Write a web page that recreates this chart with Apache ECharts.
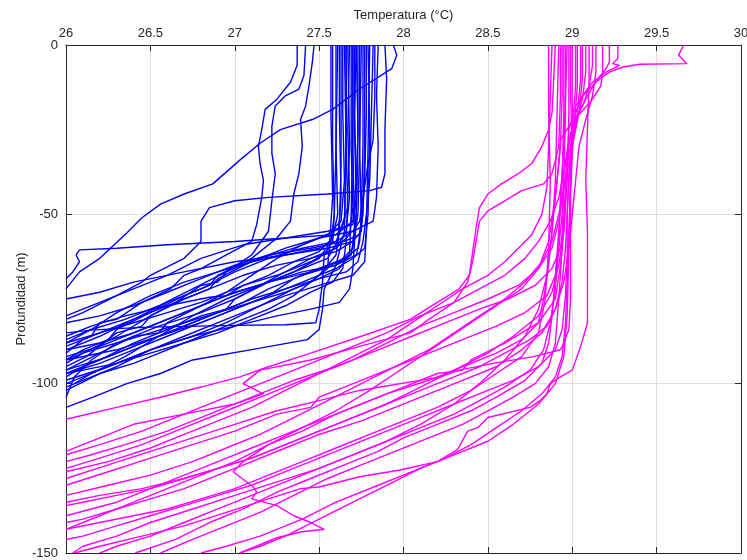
<!DOCTYPE html>
<html><head><meta charset="utf-8">
<script src="https://cdn.jsdelivr.net/npm/echarts@6/dist/echarts.min.js"></script>
<style>html,body{margin:0;padding:0;background:#fff}#c{width:747px;height:560px}</style>
</head><body><div id="c"></div>
<script>
// Axis ticks
const xTicks = [26, 26.5, 27, 27.5, 28, 28.5, 29, 29.5, 30];
const yTicks = [0, -50, -100, -150];

// Blue profiles [temperature °C, depth m]
const b01 = [[27.37,0],[27.37,-6],[27.33,-11],[27.25,-16],[27.18,-19],[27.16,-25],[27.14,-30],[27.15,-35],[27.17,-40],[27.16,-45],[27.13,-53],[27.1,-58],[26.95,-62],[26.8,-66],[26.7,-68],[26.62,-72],[26.45,-76],[26.3,-81],[26.2,-82],[26.15,-86],[26.0,-89]];
const b02 = [[27.42,0],[27.41,-9],[27.38,-13],[27.3,-15],[27.24,-18],[27.22,-24],[27.22,-32],[27.24,-38],[27.22,-46],[27.2,-55],[27.1,-62],[26.95,-67],[26.9,-70],[26.8,-71],[26.65,-76],[26.5,-80],[26.45,-83],[26.3,-85],[26.12,-92],[26.0,-95]];
const b03 = [[27.47,0],[27.46,-5],[27.44,-12],[27.42,-18],[27.39,-22],[27.4,-30],[27.38,-38],[27.35,-44],[27.33,-52],[27.25,-57],[27.1,-63],[26.9,-68],[26.85,-71],[26.7,-74],[26.5,-79],[26.3,-84],[26.25,-87],[26.1,-90],[26.0,-93]];
const b04 = [[27.94,0],[27.96,-3],[27.93,-7],[27.74,-13],[27.58,-19],[27.46,-22],[27.27,-25],[27.15,-29],[27.03,-34],[26.87,-41],[26.7,-44],[26.56,-47],[26.45,-51],[26.36,-55.5],[26.2,-63],[26.08,-67],[26.0,-72]];
const b05 = [[27.89,0],[27.9,-10],[27.89,-25],[27.89,-38],[27.87,-42],[27.8,-43],[27.55,-44],[27.2,-45],[27.0,-46],[26.85,-48],[26.8,-52],[26.8,-58],[26.7,-63],[26.5,-68],[26.45,-70],[26.3,-74],[26.1,-79],[26.0,-81]];
const b06 = [[27.85,0],[27.84,-15],[27.85,-30],[27.84,-45],[27.82,-52],[27.7,-55],[27.5,-57],[27.3,-60],[27.1,-64],[26.9,-69],[26.85,-72],[26.7,-75],[26.5,-80],[26.3,-86],[26.1,-91],[26.0,-93]];
const b07 = [[27.72,0],[27.71,-20],[27.72,-40],[27.7,-52],[27.6,-56],[27.3,-57],[27.0,-58],[26.6,-59],[26.3,-60],[26.08,-60.5],[26.06,-62],[26.08,-64],[26.04,-67],[26.0,-69]];
const b08 = [[27.78,0],[27.78,-20],[27.77,-40],[27.75,-55],[27.7,-58],[27.55,-60],[27.3,-62],[27.0,-64],[26.7,-67],[26.4,-70],[26.2,-73],[26.0,-75]];
const b09 = [[27.68,0],[27.67,-25],[27.68,-45],[27.66,-55],[27.6,-60],[27.45,-64],[27.25,-68],[27.05,-71],[26.95,-74],[26.85,-74.5],[26.6,-77],[26.35,-80],[26.15,-83],[26.0,-86]];
const b10 = [[27.74,0],[27.74,-30],[27.73,-50],[27.7,-60],[27.62,-64],[27.45,-67],[27.2,-70],[26.95,-74],[26.7,-79],[26.45,-84],[26.2,-89],[26.0,-92]];
const b11 = [[27.6,0],[27.6,-30],[27.59,-50],[27.58,-58],[27.53,-62],[27.52,-70],[27.5,-78],[27.48,-82],[27.3,-82.6],[27.0,-82.8],[26.79,-83],[26.5,-83.3],[26.36,-83.6],[26.15,-84.2],[26.0,-85]];
const b12 = [[27.66,0],[27.66,-30],[27.65,-55],[27.6,-65],[27.53,-72],[27.52,-78],[27.5,-84],[27.43,-87],[27.15,-89.5],[26.75,-93],[26.56,-97],[26.36,-100],[26.16,-104],[26.0,-107]];
const b13 = [[27.62,0],[27.62,-20],[27.63,-45],[27.61,-58],[27.55,-63],[27.4,-66],[27.2,-70],[27.0,-75],[26.95,-78],[26.8,-80],[26.6,-84],[26.4,-88],[26.2,-93],[26.0,-97]];
const b14 = [[27.7,0],[27.7,-25],[27.69,-50],[27.68,-62],[27.62,-66],[27.5,-69],[27.35,-72],[27.15,-77],[26.95,-82],[26.75,-86],[26.5,-90],[26.3,-94],[26.1,-98],[26.0,-100]];
const b15 = [[27.76,0],[27.76,-30],[27.75,-50],[27.74,-58],[27.72,-62],[27.6,-65],[27.4,-67],[27.2,-70],[27.0,-73],[26.8,-77],[26.6,-81],[26.4,-85],[26.2,-88],[26.0,-90]];
const b16 = [[27.64,0],[27.64,-20],[27.65,-40],[27.63,-52],[27.55,-56],[27.4,-59],[27.25,-63],[27.1,-68],[26.95,-73],[26.8,-77],[26.6,-82],[26.55,-85],[26.4,-86],[26.2,-91],[26.0,-96]];
const b17 = [[27.8,0],[27.79,-30],[27.78,-55],[27.77,-64],[27.7,-68],[27.5,-71],[27.3,-74],[27.1,-78],[26.9,-82],[26.7,-86],[26.5,-90],[26.3,-95],[26.1,-99],[26.0,-101]];
const b18 = [[27.72,0],[27.73,-25],[27.72,-50],[27.7,-66],[27.68,-72],[27.62,-76],[27.45,-78],[27.25,-80],[27.0,-83],[26.75,-86],[26.5,-90],[26.25,-95],[26.0,-99]];
const b19 = [[27.66,0],[27.66,-30],[27.67,-48],[27.63,-54],[27.5,-57],[27.35,-60],[27.15,-63],[26.95,-67],[26.75,-72],[26.55,-77],[26.35,-81],[26.15,-84],[26.0,-87]];
const b20 = [[27.7,0],[27.7,-30],[27.71,-55],[27.69,-62],[27.6,-65],[27.4,-68],[27.2,-72],[27.05,-76],[26.85,-80],[26.65,-84],[26.45,-88],[26.25,-92],[26.0,-96]];
const b21 = [[27.75,0],[27.74,-30],[27.75,-52],[27.73,-60],[27.65,-63],[27.5,-66],[27.35,-69],[27.2,-74],[27.0,-78],[26.8,-82],[26.55,-86],[26.3,-90],[26.0,-93]];
const b22 = [[27.63,0],[27.63,-35],[27.62,-55],[27.6,-62],[27.5,-68],[27.35,-74],[27.2,-78],[27.0,-82],[26.8,-86],[26.6,-90],[26.4,-94],[26.2,-97],[26.0,-102]];
const b23 = [[27.57,0],[27.57,-20],[27.58,-45],[27.56,-60],[27.55,-66],[27.45,-70],[27.3,-73],[27.1,-76],[26.9,-79],[26.7,-82],[26.5,-85],[26.3,-88],[26.1,-91],[26.0,-94]];
const b24 = [[27.77,0],[27.77,-30],[27.76,-50],[27.74,-56],[27.65,-58],[27.45,-60],[27.2,-62],[27.0,-65],[26.8,-69],[26.6,-73],[26.4,-77],[26.2,-80],[26.0,-82]];
const b25 = [[27.69,0],[27.69,-30],[27.7,-48],[27.68,-56],[27.6,-60],[27.45,-63],[27.3,-67],[27.15,-71],[27.0,-75],[26.8,-79],[26.55,-83],[26.3,-88],[26.15,-93],[26.05,-98],[26.0,-104]];
const b26 = [[27.71,0],[27.71,-25],[27.72,-45],[27.7,-53],[27.55,-55],[27.3,-57],[27.05,-59],[26.8,-63],[26.6,-68],[26.4,-72],[26.2,-76],[26.0,-80]];
const b27 = [[27.82,0],[27.81,-20],[27.8,-40],[27.78,-50],[27.76,-58],[27.73,-64],[27.66,-67],[27.5,-69],[27.3,-72],[27.1,-75],[26.9,-79],[26.7,-83],[26.5,-87],[26.3,-91],[26.1,-95],[26.0,-98]];
const b28 = [[27.61,0],[27.6,-30],[27.61,-50],[27.58,-57],[27.5,-61],[27.35,-64],[27.2,-68],[27.0,-72],[26.8,-76],[26.6,-79],[26.4,-82],[26.2,-85],[26.0,-88]];
const b29 = [[27.67,0],[27.68,-30],[27.66,-58],[27.64,-66],[27.58,-70],[27.45,-73],[27.3,-77],[27.1,-81],[26.9,-85],[26.7,-88],[26.5,-91],[26.3,-94],[26.1,-96],[26.0,-97]];
const b30 = [[27.73,0],[27.73,-25],[27.72,-50],[27.7,-58],[27.6,-61],[27.45,-63],[27.25,-65],[27.05,-68],[26.85,-72],[26.65,-76],[26.45,-80],[26.25,-84],[26.1,-87],[26.0,-91]];
const b31 = [[27.79,0],[27.8,-25],[27.79,-50],[27.77,-60],[27.7,-63],[27.6,-66],[27.4,-70],[27.2,-74],[27.0,-78],[26.8,-82],[26.6,-86],[26.4,-90],[26.2,-94],[26.0,-97]];
const b32 = [[27.65,0],[27.66,-30],[27.65,-52],[27.6,-58],[27.5,-60],[27.3,-62],[27.1,-64],[26.9,-67],[26.7,-70],[26.5,-74],[26.3,-79],[26.15,-84],[26.0,-88]];
const b33 = [[27.58,0],[27.58,-30],[27.59,-50],[27.57,-58],[27.5,-63],[27.35,-67],[27.15,-71],[26.95,-75],[26.75,-80],[26.55,-86],[26.35,-92],[26.15,-97],[26.05,-100]];
const b34 = [[27.83,0],[27.83,-15],[27.82,-28],[27.79,-35],[27.76,-45],[27.74,-52],[27.7,-55],[27.6,-58],[27.4,-60],[27.2,-63],[27.0,-67],[26.8,-72],[26.6,-76],[26.4,-81],[26.2,-86],[26.0,-90]];

// Magenta profiles [temperature °C, depth m]
const m01 = [[28.9,0],[28.89,-10],[28.88,-20],[28.86,-25],[28.82,-30],[28.76,-35],[28.68,-38],[28.58,-41],[28.5,-44],[28.45,-48],[28.43,-54],[28.41,-61],[28.39,-68],[28.33,-72],[28.2,-76],[28.04,-81],[27.75,-86],[27.45,-91],[27.2,-95],[27.03,-98],[26.8,-101],[26.56,-104],[26.3,-107],[26.0,-110.5]];
const m02 = [[28.93,0],[28.93,-15],[28.92,-30],[28.88,-38],[28.83,-41],[28.7,-43],[28.6,-46],[28.5,-49],[28.45,-52],[28.43,-58],[28.41,-64],[28.38,-70],[28.3,-76],[28.15,-81],[28.04,-85],[27.74,-89],[27.45,-93],[27.15,-96],[27.05,-100],[27.17,-103],[27.0,-106],[26.7,-109],[26.4,-112],[26.2,-116],[26.0,-120]];
const m03 = [[29.66,0],[29.63,-3],[29.68,-5.5],[29.4,-5.7],[29.3,-6.5],[29.22,-8],[29.15,-10.5],[29.08,-14],[29.02,-18],[28.98,-25],[28.97,-35],[28.96,-45],[28.95,-55],[28.93,-65],[28.9,-75],[28.8,-82],[28.6,-88],[28.4,-93],[28.35,-96],[28.2,-97],[28.0,-101],[27.8,-105],[27.6,-109],[27.4,-114],[27.2,-118],[27.0,-123],[26.8,-127],[26.6,-131],[26.4,-135],[26.2,-139],[26.0,-143]];
const m04 = [[29.27,0],[29.27,-4],[29.24,-5.5],[29.28,-6],[29.2,-8],[29.12,-11],[29.06,-15],[29.02,-20],[28.99,-27],[28.96,-35],[28.92,-45],[28.87,-52],[28.8,-58],[28.72,-63],[28.6,-68],[28.45,-72],[28.3,-76],[28.1,-80],[27.9,-85],[27.7,-89],[27.45,-94],[27.2,-99],[26.95,-104],[26.7,-109],[26.45,-114],[26.2,-118],[26.0,-121]];
const m05 = [[29.22,0],[29.22,-5],[29.2,-7],[29.16,-9.5],[29.12,-12.5],[29.08,-16],[29.04,-20],[29.0,-25],[28.97,-31],[28.95,-38],[28.94,-50],[28.92,-60],[28.9,-68],[28.85,-74],[28.72,-79],[28.55,-83],[28.35,-87],[28.15,-91],[27.95,-95],[27.75,-99],[27.5,-104],[27.45,-107],[27.25,-109],[27.0,-114],[26.75,-118],[26.5,-122],[26.25,-126],[26.0,-130]];
const m06 = [[29.18,0],[29.18,-8],[29.17,-12],[29.12,-16],[29.05,-20],[28.98,-24],[28.93,-28],[28.92,-35],[28.9,-45],[28.88,-55],[28.86,-65],[28.83,-75],[28.8,-82],[28.7,-87],[28.55,-91],[28.35,-95],[28.15,-99],[27.9,-103],[27.7,-107],[27.5,-111],[27.3,-115],[27.1,-119],[26.9,-123],[26.7,-127],[26.5,-131],[26.3,-135],[26.15,-137],[26.0,-139]];
const m07 = [[29.12,0],[29.12,-6],[29.1,-12],[29.07,-17],[29.03,-21],[28.99,-26],[28.97,-33],[28.96,-42],[28.95,-52],[28.93,-60],[28.88,-66],[28.78,-71],[28.62,-75],[28.45,-78],[28.25,-82],[28.05,-86],[27.85,-90],[27.6,-95],[27.35,-99],[27.1,-104],[26.85,-109],[26.6,-114],[26.35,-118],[26.15,-121],[26.0,-123]];
const m08 = [[29.1,0],[29.1,-10],[29.09,-25],[29.08,-40],[29.09,-55],[29.09,-70],[29.09,-82],[29.05,-89],[29.0,-96],[28.93,-98],[28.87,-100],[28.85,-103],[28.81,-105],[28.75,-107],[28.5,-110],[28.44,-113],[28.38,-114],[28.32,-119.5],[28.2,-123],[27.98,-125.5],[27.74,-127.5],[27.5,-130.5],[27.39,-131],[27.2,-134],[26.95,-138],[26.7,-142],[26.45,-145],[26.2,-148],[26.05,-150]];
const m09 = [[28.99,0],[28.99,-15],[29.0,-30],[28.99,-45],[28.99,-60],[28.99,-75],[28.98,-84],[28.95,-88],[28.93,-90],[28.77,-92],[28.53,-94],[28.33,-96],[28.22,-98],[27.74,-102],[27.5,-105],[27.25,-108],[27.0,-112],[26.75,-116],[26.5,-120],[26.25,-124],[26.0,-128]];
const m10 = [[29.05,0],[29.05,-10],[29.03,-20],[29.0,-28],[28.98,-40],[28.97,-50],[28.96,-60],[28.94,-70],[28.9,-78],[28.85,-83],[28.75,-87],[28.6,-91],[28.45,-95],[28.3,-98],[28.1,-102],[27.9,-106],[27.7,-110],[27.5,-114],[27.3,-118],[27.1,-122],[26.9,-125],[26.7,-128],[26.5,-131],[26.3,-133],[26.1,-135],[26.0,-136]];
const m11 = [[29.02,0],[29.02,-12],[29.0,-25],[28.98,-38],[28.97,-50],[28.97,-62],[28.96,-74],[28.94,-84],[28.9,-90],[28.8,-95],[28.65,-99],[28.5,-102],[28.3,-106],[28.1,-110],[27.9,-114],[27.7,-118],[27.5,-122],[27.3,-126],[27.1,-130],[26.9,-133],[26.7,-136],[26.5,-139],[26.3,-142],[26.1,-145],[26.0,-146]];
const m12 = [[28.97,0],[28.96,-15],[28.95,-30],[28.93,-45],[28.92,-60],[28.9,-72],[28.87,-82],[28.83,-90],[28.75,-96],[28.6,-101],[28.45,-105],[28.3,-109],[28.1,-113],[27.9,-117],[27.7,-121],[27.5,-125],[27.3,-129],[27.1,-133],[26.9,-137],[26.7,-141],[26.5,-145],[26.3,-148],[26.2,-150]];
const m13 = [[28.95,0],[28.95,-20],[28.94,-40],[28.92,-55],[28.9,-68],[28.88,-80],[28.86,-88],[28.82,-94],[28.72,-99],[28.55,-104],[28.4,-108],[28.2,-112],[28.0,-116],[27.85,-120],[27.65,-124],[27.45,-128],[27.25,-132],[27.05,-137],[26.85,-141],[26.65,-146],[26.41,-150]];
const m14 = [[28.96,0],[28.96,-20],[28.95,-40],[28.94,-60],[28.92,-75],[28.9,-88],[28.86,-95],[28.78,-100],[28.65,-104],[28.5,-108],[28.35,-112],[28.15,-116],[27.95,-120],[27.75,-124],[27.55,-128],[27.35,-133],[27.15,-138],[26.95,-142],[26.75,-146],[26.56,-150]];
const m15 = [[29.0,0],[29.0,-20],[28.99,-40],[28.98,-60],[28.97,-80],[28.95,-92],[28.9,-100],[28.8,-106],[28.65,-112],[28.5,-117],[28.3,-121],[28.1,-125],[27.9,-130],[27.7,-135],[27.5,-140],[27.3,-145],[27.15,-148],[27.03,-150]];
const m16 = [[28.94,0],[28.94,-15],[28.93,-30],[28.9,-45],[28.86,-58],[28.8,-66],[28.7,-72],[28.55,-77],[28.4,-82],[28.25,-87],[28.1,-92],[27.95,-97],[27.8,-102],[27.6,-108],[27.4,-113],[27.2,-118],[27.05,-123],[26.99,-126],[27.11,-130.5],[27.13,-132],[27.1,-134],[27.25,-136],[27.35,-139],[27.45,-141],[27.53,-143],[27.39,-143.8],[27.25,-145.5],[27.03,-150]];
const m17 = [[29.14,0],[29.14,-8],[29.12,-15],[29.08,-22],[29.04,-30],[29.02,-40],[29.0,-50],[28.98,-60],[28.95,-70],[28.9,-78],[28.82,-85],[28.7,-90],[28.55,-95],[28.35,-99],[28.15,-103],[27.95,-107],[27.75,-111],[27.5,-115],[27.3,-119],[27.1,-123],[26.9,-127],[26.7,-131],[26.5,-134],[26.3,-137],[26.1,-140],[26.0,-141]];
const m18 = [[29.06,0],[29.06,-10],[29.04,-20],[29.0,-30],[28.96,-40],[28.92,-50],[28.88,-58],[28.82,-64],[28.72,-70],[28.6,-75],[28.45,-80],[28.3,-85],[28.15,-90],[27.95,-95],[27.75,-100],[27.55,-105],[27.35,-110],[27.15,-115],[26.95,-119],[26.75,-123],[26.5,-127],[26.25,-130],[26.0,-133]];
const m19 = [[28.88,0],[28.87,-15],[28.86,-30],[28.85,-42],[28.82,-50],[28.76,-56],[28.68,-60],[28.6,-64],[28.5,-68],[28.35,-72],[28.2,-77],[28.05,-82],[27.9,-87],[27.7,-92],[27.5,-97],[27.3,-102],[27.1,-107],[26.9,-111],[26.7,-115],[26.5,-119],[26.25,-123],[26.0,-126]];
const m20 = [[29.03,0],[29.03,-12],[29.01,-25],[28.99,-40],[28.98,-55],[28.97,-70],[28.96,-82],[28.94,-92],[28.9,-98],[28.82,-103],[28.7,-108],[28.55,-113],[28.4,-118],[28.25,-122],[28.05,-126],[27.85,-130],[27.6,-135],[27.4,-140],[27.15,-145],[26.95,-148],[26.8,-150]];
const m21 = [[28.92,0],[28.91,-20],[28.9,-40],[28.88,-55],[28.85,-68],[28.8,-78],[28.72,-86],[28.6,-93],[28.45,-100],[28.3,-106],[28.1,-112],[27.9,-117],[27.7,-121],[27.5,-125],[27.25,-129],[27.0,-133],[26.75,-137],[26.5,-141],[26.3,-145],[26.1,-148],[26.04,-150]];
const m22 = [[28.98,0],[28.98,-20],[28.97,-40],[28.95,-55],[28.92,-65],[28.88,-73],[28.8,-80],[28.65,-86],[28.5,-91],[28.3,-96],[28.1,-101],[27.9,-106],[27.7,-110],[27.5,-114],[27.3,-118],[27.1,-122],[26.9,-125],[26.7,-128],[26.45,-131],[26.2,-133],[26.0,-135]];
const m23 = [[28.86,0],[28.86,-20],[28.87,-40],[28.86,-60],[28.84,-75],[28.8,-85],[28.7,-92],[28.55,-97],[28.4,-102],[28.2,-107],[28.0,-111],[27.8,-115],[27.6,-119],[27.4,-123],[27.2,-127],[27.0,-131],[26.8,-134],[26.6,-137],[26.4,-139],[26.2,-141],[26.0,-143]];
const m24 = [[29.08,0],[29.08,-8],[29.06,-16],[29.02,-24],[28.98,-32],[28.95,-42],[28.92,-52],[28.88,-60],[28.8,-66],[28.68,-71],[28.5,-75],[28.3,-79],[28.1,-83],[27.9,-88],[27.7,-93],[27.45,-98],[27.2,-103],[26.95,-108],[26.7,-113],[26.45,-118],[26.2,-122],[26.0,-125]];

const blueProfiles = [b01,b02,b03,b04,b05,b06,b07,b08,b09,b10,b11,b12,b13,b14,b15,b16,b17,b18,b19,b20,b21,b22,b23,b24,b25,b26,b27,b28,b29,b30,b31,b32,b33,b34];
const magentaProfiles = [m01,m02,m03,m04,m05,m06,m07,m08,m09,m10,m11,m12,m13,m14,m15,m16,m17,m18,m19,m20,m21,m22,m23,m24];

const FONT = '"Liberation Sans", Arial, sans-serif';
const TXT = '#262626';
const AX = '#262626';

function mkSeries(list, color){
  return list.map(p => ({
    type:'line', data:p, showSymbol:false, symbol:'none', smooth:false,
    xAxisIndex:0, yAxisIndex:0, clip:true,
    lineStyle:{color:color, width:1.4}, emphasis:{disabled:true}, silent:true
  }));
}

const chart = echarts.init(document.getElementById('c'), null, {renderer:'canvas'});
chart.setOption({
  animation:false,
  backgroundColor:'#fff',
  grid:{left:66, right:6, top:45, bottom:7, containLabel:false, outerBoundsMode:'none'},
  xAxis:[
    {type:'value', position:'top', min:xTicks[0], max:xTicks[xTicks.length-1], interval:0.5,
     name:'Temperatura (°C)', nameLocation:'middle', nameGap:23, nameMoveOverlap:false,
     nameTextStyle:{fontFamily:FONT, fontSize:13, color:TXT},
     axisLine:{show:true, lineStyle:{color:AX, width:1}},
     axisTick:{show:true, inside:true, length:6, lineStyle:{color:AX, width:1}},
     axisLabel:{show:true, margin:5, fontFamily:FONT, fontSize:13, color:TXT},
     splitLine:{show:true, lineStyle:{color:'#dedede', width:1}}},
    {type:'value', position:'bottom', min:xTicks[0], max:xTicks[xTicks.length-1], interval:0.5,
     axisLine:{show:true, onZero:false, lineStyle:{color:AX, width:1}},
     axisTick:{show:true, inside:true, length:6, lineStyle:{color:AX, width:1}},
     axisLabel:{show:false}, splitLine:{show:false}}
  ],
  yAxis:[
    {type:'value', position:'left', min:yTicks[yTicks.length-1], max:yTicks[0], interval:50,
     name:'Profundidad (m)', nameLocation:'middle', nameGap:38, nameRotate:90, nameMoveOverlap:false,
     nameTextStyle:{fontFamily:FONT, fontSize:13, color:TXT},
     axisLine:{show:true, onZero:false, lineStyle:{color:AX, width:1}},
     axisTick:{show:true, inside:true, length:6, lineStyle:{color:AX, width:1}},
     axisLabel:{show:true, margin:8, fontFamily:FONT, fontSize:13, color:TXT},
     splitLine:{show:true, lineStyle:{color:'#dedede', width:1}}},
    {type:'value', position:'right', min:yTicks[yTicks.length-1], max:yTicks[0], interval:50,
     axisLine:{show:true, onZero:false, lineStyle:{color:AX, width:1}},
     axisTick:{show:true, inside:true, length:6, lineStyle:{color:AX, width:1}},
     axisLabel:{show:false}, splitLine:{show:false}}
  ],
  series:[].concat(mkSeries(blueProfiles,'#0000ff'), mkSeries(magentaProfiles,'#ff00ff'))
});
</script>
</body></html>
